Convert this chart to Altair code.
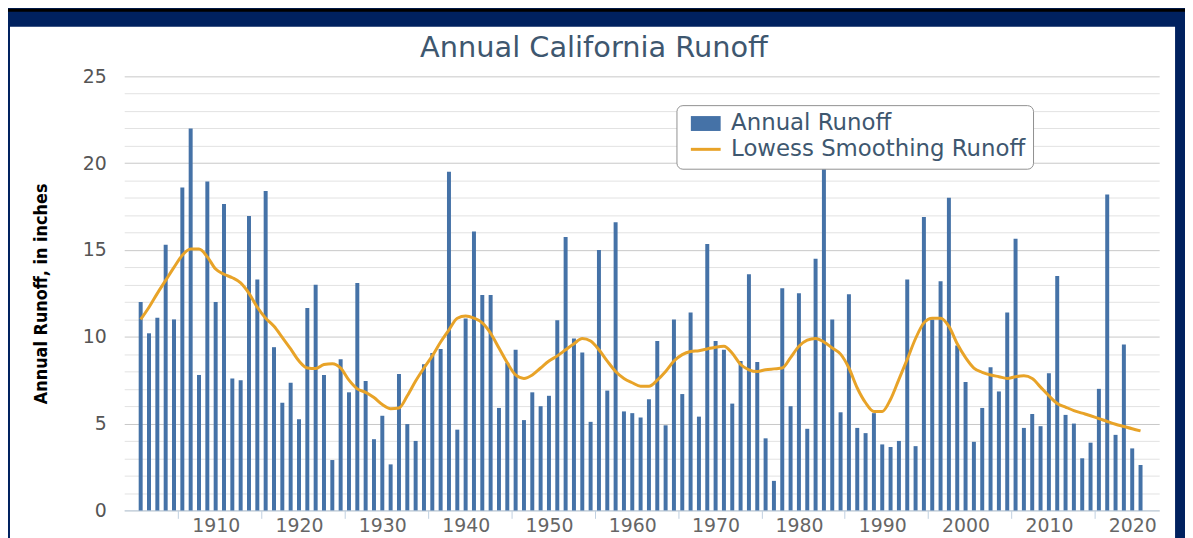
import altair as alt
import pandas as pd

# ---------------- data ----------------
years = list(range(1901, 2022))
runoff = [
    12.0, 10.2, 11.1, 15.3, 11.0, 18.6, 22.0, 7.8, 18.95, 12.0,      # 1901-1910
    17.65, 7.6, 7.5, 16.95, 13.3, 18.4, 9.4, 6.2, 7.35, 5.25,        # 1911-1920
    11.65, 13.0, 7.8, 2.9, 8.7, 6.8, 13.1, 7.45, 4.1, 5.45,          # 1921-1930
    2.65, 7.85, 4.97, 4.0, 8.42, 9.07, 9.3, 19.5, 4.65, 11.05,       # 1931-1940
    16.07, 12.4, 12.4, 5.9, 8.5, 9.25, 5.2, 6.8, 6.0, 6.6,           # 1941-1950
    10.95, 15.75, 9.9, 9.1, 5.1, 15.0, 6.9, 16.6, 5.7, 5.6,          # 1951-1960
    5.35, 6.4, 9.75, 4.9, 11.0, 6.7, 11.4, 5.4, 15.35, 9.75,         # 1961-1970
    9.25, 6.15, 8.6, 13.6, 8.55, 4.15, 1.7, 12.8, 6.0, 12.5,         # 1971-1980
    4.7, 14.5, 21.5, 11.0, 5.65, 12.45, 4.75, 4.45, 5.6, 3.8,        # 1981-1990
    3.65, 4.0, 13.3, 3.7, 16.9, 11.0, 13.2, 18.0, 9.5, 7.4,          # 1991-2000
    3.95, 5.9, 8.25, 6.85, 11.4, 15.65, 4.75, 5.55, 4.85, 7.9,       # 2001-2010
    13.5, 5.5, 5.0, 3.0, 3.9, 7.0, 18.2, 4.35, 9.56, 3.57,           # 2011-2020
    2.61,                                                            # 2021
]
lowess = [
    11.0, 11.7, 12.5, 13.25, 14.0, 14.7, 15.05, 15.05, 14.6, 13.9,
    13.6, 13.4, 13.1, 12.5, 11.7, 11.07, 10.6, 9.96, 9.3, 8.6,
    8.2, 8.17, 8.4, 8.45, 8.2, 7.5, 7.0, 6.8, 6.5, 6.1,
    5.86, 5.9, 6.6, 7.45, 8.2, 8.9, 9.7, 10.4, 11.07, 11.2,
    11.07, 10.8, 10.2, 9.35, 8.5, 7.8, 7.6, 7.8, 8.2, 8.6,
    8.9, 9.25, 9.6, 9.9, 9.75, 9.25, 8.6, 8.0, 7.6, 7.35,
    7.15, 7.15, 7.5, 8.0, 8.6, 8.97, 9.15, 9.2, 9.3, 9.4,
    9.45, 9.05, 8.4, 8.1, 8.0, 8.1, 8.15, 8.2, 8.8, 9.45,
    9.8, 9.9, 9.7, 9.35, 9.0, 8.2, 7.05, 6.2, 5.7, 5.7,
    6.4, 7.55, 8.7, 9.9, 10.8, 11.07, 11.07, 10.6, 9.6, 8.8,
    8.2, 7.95, 7.8, 7.7, 7.6, 7.7, 7.75, 7.6, 7.1, 6.6,
    6.16, 5.95, 5.75, 5.6, 5.45, 5.29, 5.12, 4.96, 4.83, 4.7,
    4.58,
]
series_names = ["Annual Runoff", "Lowess Smoothing Runoff"]
y_grid_values = list(range(0, 26))
x_label_years = [1910, 1920, 1930, 1940, 1950, 1960, 1970, 1980, 1990, 2000, 2010, 2020]
x_tick_years = [1905.5, 1915.5, 1925.5, 1935.5, 1945.5, 1955.5, 1965.5, 1975.5,
                1985.5, 1995.5, 2005.5, 2015.5]

# ---------------- style ----------------
BAR = "#4572A7"
LINE = "#E8A328"
NAVY = "#00215F"
W, H = 1042, 437
PAD = {"left": 117, "top": 67, "right": 26, "bottom": 26}
FONT = "DejaVu Sans"

df = pd.DataFrame({
    "year": years,
    "runoff": runoff,
    "lowess": lowess,
    "series": series_names[0],
})

x_scale = alt.Scale(domain=[1899.62, 2022.64], nice=False, zero=False)
y_scale = alt.Scale(domain=[0, 25], nice=False)

x_axis = alt.Axis(
    values=sorted(x_label_years + x_tick_years),
    labelExpr="datum.value % 10 == 0 ? format(datum.value, 'd') : ''",
    tickOpacity={"condition": {"test": "datum.value % 10 == 0", "value": 0}, "value": 1},
    tickColor="#C0D0E0", tickSize=8, tickWidth=1,
    domainColor="#C0D0E0", domainWidth=1,
    labelFont=FONT, labelFontSize=19, labelColor="#666666", labelPadding=-2,
    labelOverlap=False, labelFlush=False, grid=False, title=None,
)
y_axis = alt.Axis(
    values=y_grid_values,
    labelExpr="datum.value % 5 == 0 ? format(datum.value, 'd') : ''",
    grid=True,
    gridColor={"condition": {"test": "datum.value % 5 == 0", "value": "#C8C8C8"}, "value": "#E2E2E2"},
    gridWidth=1,
    ticks=False, domain=False,
    labelFont=FONT, labelFontSize=19, labelColor="#555555", labelPadding=18,
    labelOverlap=False,
    title="Annual Runoff, in inches",
    titleFont="Liberation Sans Narrow, DejaVu Sans Condensed, sans-serif",
    titleFontSize=18, titleFontWeight="bold", titleColor="#000000", titlePadding=32,
)

base = alt.Chart(df)

# navy frame around the white panel (decoration)
frame = alt.Chart(pd.DataFrame({"k": [0]})).mark_rect(
    filled=False, stroke=NAVY, strokeWidth=40
).encode(x=alt.value(-135), x2=alt.value(1078), y=alt.value(-70), y2=alt.value(600))

top_line = alt.Chart(pd.DataFrame({"k": [0]})).mark_rule(
    color="#000000", strokeWidth=3
).encode(x=alt.value(-117), x2=alt.value(1068), y=alt.value(-66.5))

legend = alt.Legend(
    orient="none", legendX=556, legendY=29, direction="vertical", title=None,
    fillColor="#FFFFFF", strokeColor="#909090", cornerRadius=6, padding=7,
    labelFont=FONT, labelFontSize=23, labelColor="#3E576F", labelOffset=14,
    labelLimit=600, symbolOffset=11,
    symbolSize=625, rowPadding=2, zindex=1,
    symbolType={"expr": "datum.value === 'Annual Runoff' ? 'M-1.2,-0.6H1.2V0.6H-1.2Z' : 'M-1.2,0H1.2'"},
    symbolStrokeColor={"expr": "datum.value === 'Annual Runoff' ? 'transparent' : '" + LINE + "'"},
    symbolStrokeWidth={"expr": "datum.value === 'Annual Runoff' ? 0 : 3"},
)

bars = base.mark_bar(size=4).encode(
    x=alt.X("year:Q", scale=x_scale, axis=x_axis),
    y=alt.Y("runoff:Q", scale=y_scale, axis=y_axis),
    color=alt.Color("series:N", scale=alt.Scale(domain=series_names, range=[BAR, LINE]), legend=legend),
)

line = base.mark_line(strokeWidth=3, interpolate="monotone").encode(
    x=alt.X("year:Q", scale=x_scale, axis=x_axis),
    y=alt.Y("lowess:Q", scale=y_scale, axis=y_axis),
    color=alt.value(LINE),
)

chart = alt.layer(frame, top_line, bars, line).properties(
    width=W, height=H,
    title=alt.TitleParams(
        "Annual California Runoff", font=FONT, fontSize=29, fontWeight="normal",
        color="#3E576F", anchor="middle", frame="group", dx=-48, dy=100, offset=0,
        baseline="alphabetic",
    ),
    padding=PAD,
    autosize=alt.AutoSizeParams(type="none"),
    background="#FFFFFF",
).configure_view(stroke=None)

chart.save("out.html", embed_options={"renderer": "svg", "actions": False})
